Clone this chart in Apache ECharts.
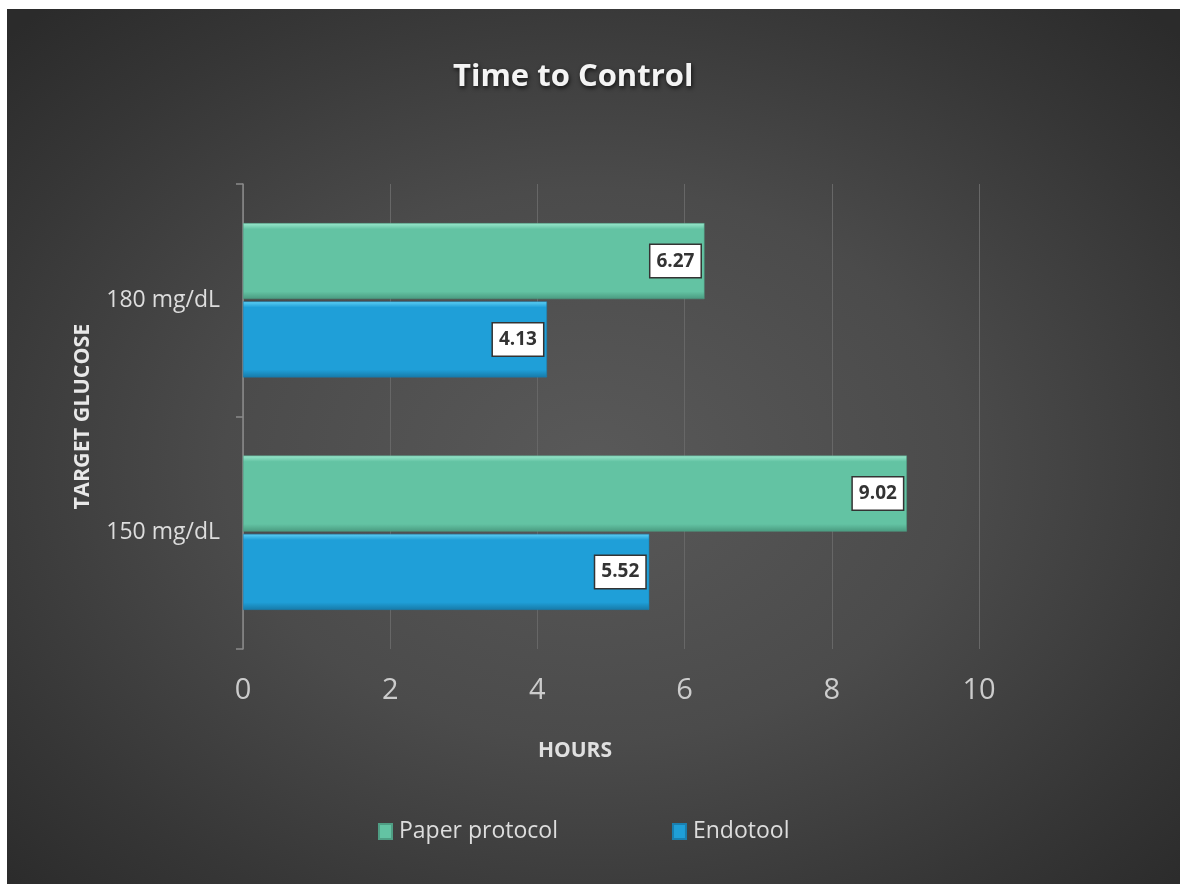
<!DOCTYPE html>
<html>
<head>
<meta charset="utf-8">
<script src="https://cdn.jsdelivr.net/npm/echarts@6/dist/echarts.min.js"></script>
<style>
  html, body { margin: 0; padding: 0; background: #ffffff; overflow: hidden; width: 100%; height: 100%; }
  #chart {
    position: absolute; left: 7px; top: 9px; right: 0; bottom: 0;
    background: radial-gradient(ellipse 70% 70% at 50% 52%, #595959 0%, #4b4b4b 45%, #363636 80%, #2b2b2b 100%);
  }
</style>
</head>
<body>
<div id="chart"></div>
<script>
const categories = ['180 mg/dL', '150 mg/dL'];
const seriesNames = ['Paper protocol', 'Endotool'];
const paperProtocol = [6.27, 9.02];
const endotool = [4.13, 5.52];
const xTicks = [0, 2, 4, 6, 8, 10];

const FONT = 'Open Sans';
const chart = echarts.init(document.getElementById('chart'), null, { renderer: 'canvas' });

function grad(top, mid, bot) {
  return new echarts.graphic.LinearGradient(0, 0, 0, 1, [
    { offset: 0, color: top },
    { offset: 0.08, color: mid },
    { offset: 0.9, color: mid },
    { offset: 1, color: bot }
  ]);
}

const labelCfg = {
  show: true,
  position: 'insideRight',
  distance: 4,
  formatter: p => p.value.toFixed(2),
  color: '#333333',
  fontFamily: FONT,
  fontWeight: 'bold',
  fontSize: 19,
  lineHeight: 23,
  backgroundColor: '#ffffff',
  borderColor: '#333333',
  borderWidth: 1.5,
  padding: [5, 6, 4, 6]
};

chart.setOption({
  backgroundColor: 'transparent',
  textStyle: { fontFamily: FONT },
  title: {
    text: 'Time to Control',
    left: 441,
    top: 48,
    textStyle: {
      color: '#f4f4f4',
      fontFamily: FONT,
      fontWeight: 'bold',
      fontSize: 31,
      textShadowColor: 'rgba(0,0,0,0.7)',
      textShadowBlur: 4,
      textShadowOffsetX: 1,
      textShadowOffsetY: 2
    }
  },
  legend: {
    data: seriesNames,
    left: 366,
    top: 806,
    itemWidth: 13,
    itemHeight: 15,
    itemGap: 114,
    icon: 'rect',
    textStyle: { color: '#dddddd', fontSize: 23, fontFamily: FONT, padding: [0, 0, 0, 2] }
  },
  grid: { left: 236, right: 201, top: 175, bottom: 235, containLabel: false },
  xAxis: {
    type: 'value',
    min: xTicks[0],
    max: xTicks[xTicks.length - 1],
    interval: 2,
    name: 'HOURS',
    nameLocation: 'middle',
    nameGap: 92,
    nameTextStyle: { color: '#e0e0e0', fontWeight: 'bold', fontSize: 21, fontFamily: FONT, padding: [0, 72, 0, 0] },
    axisLine: { show: false },
    axisTick: { show: false },
    axisLabel: { color: '#cccccc', fontSize: 29, fontFamily: FONT, margin: 27 },
    splitLine: { show: true, lineStyle: { color: '#676767', width: 1 } }
  },
  yAxis: {
    type: 'category',
    data: categories,
    inverse: true,
    name: 'TARGET GLUCOSE',
    nameLocation: 'middle',
    nameRotate: 90,
    nameGap: 149,
    nameTextStyle: { color: '#e8e8e8', fontWeight: 'bold', fontSize: 21.5, fontFamily: FONT },
    axisLine: { show: true, lineStyle: { color: '#8a8a8a', width: 1.5 } },
    axisTick: { show: true, length: 7, lineStyle: { color: '#8a8a8a', width: 1.5 } },
    axisLabel: { color: '#dddddd', fontSize: 23, fontFamily: FONT, margin: 23 },
    splitLine: { show: false }
  },
  series: [
    {
      name: seriesNames[0],
      type: 'bar',
      data: paperProtocol,
      barWidth: 76,
      barGap: '3%',
      itemStyle: {
        color: grad('#9be8cd', '#63c3a3', '#4a9a80'),
        borderColor: '#4f9e84',
        borderWidth: 0.5
      },
      label: labelCfg
    },
    {
      name: seriesNames[1],
      type: 'bar',
      data: endotool,
      barWidth: 76,
      barGap: '3%',
      itemStyle: {
        color: grad('#5fd0f5', '#1f9fd8', '#177aa8'),
        borderColor: '#1a7fb0',
        borderWidth: 0.5
      },
      label: labelCfg
    }
  ]
});
</script>
</body>
</html>
